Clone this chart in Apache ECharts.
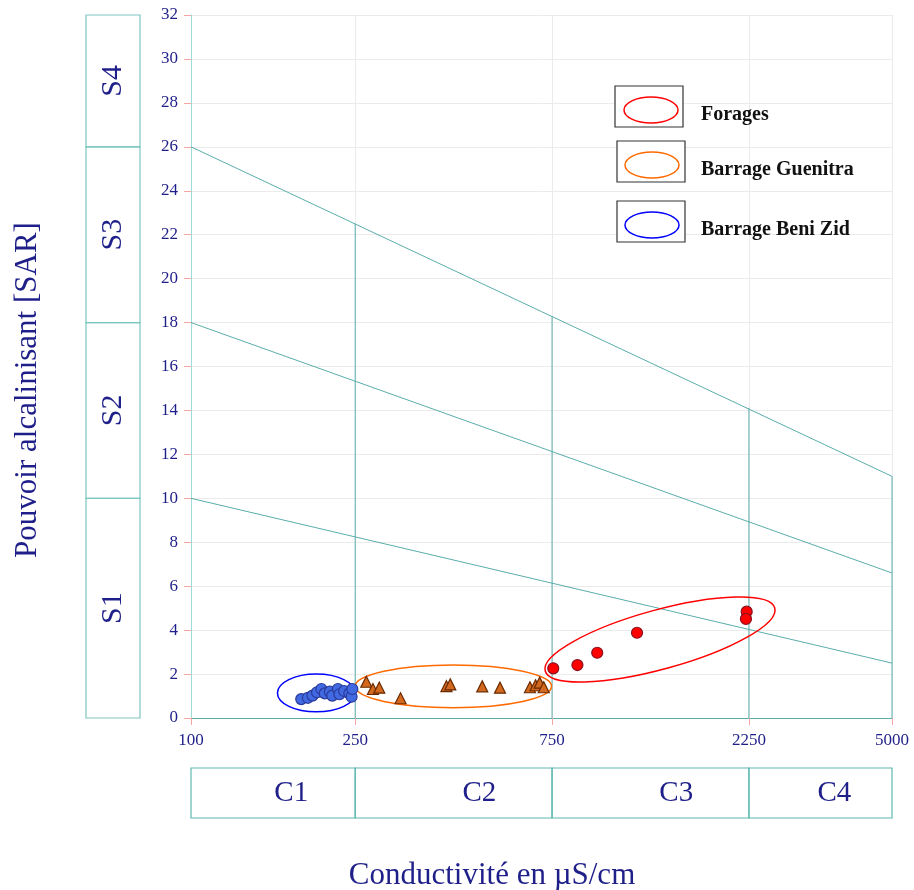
<!DOCTYPE html>
<html>
<head>
<meta charset="utf-8">
<script src="https://cdn.jsdelivr.net/npm/echarts@6/dist/echarts.min.js"></script>
<style>html,body{margin:0;padding:0;background:#fff}#main{width:914px;height:890px}</style>
</head>
<body>
<div id="main"></div>
<script>
// axe des conductivites (log)
var ecTicks = [100, 250, 750, 2250, 5000];
// classes de salinite (C) et d'alcalinite (S)
var cClasses = ['C1', 'C2', 'C3', 'C4'];
var cBounds = [100, 250, 750, 2250, 5000];
var sClasses = ['S1', 'S2', 'S3', 'S4'];
var sBounds = [0, 10, 18, 26, 32];
// droites S1/S2, S2/S3, S3/S4 : SAR a 100 et a 5000 µS/cm
var sLineLeft = [10, 18, 26];
var sLineRight = [2.5, 6.6, 11];
// verticales des classes C, jusqu'a la droite S3/S4
var cLineX = [250, 750, 2250, 5000];
var cLineTop = [22.5, 18.3, 14.1, 11];

var foragesEC = [755, 864, 965, 1205, 2222, 2213];
var foragesSAR = [2.26, 2.41, 2.97, 3.88, 4.84, 4.51];
var guenitraEC = [266, 276, 286, 322, 416, 425, 508, 561, 663, 684, 700, 716];
var guenitraSAR = [1.65, 1.32, 1.38, 0.90, 1.45, 1.53, 1.44, 1.38, 1.40, 1.49, 1.61, 1.40];
var benizidEC = [185, 192, 197, 202, 207, 211, 217, 220, 227, 229, 235, 242, 245, 246];
var benizidSAR = [0.86, 0.92, 1.02, 1.17, 1.32, 1.12, 1.20, 1.02, 1.32, 1.08, 1.23, 1.12, 0.97, 1.32];

// ellipses : [ec1, sar1, ec2, sar2, demi petit axe en SAR]
var groupNames = ['Forages', 'Barrage Guenitra', 'Barrage Beni Zid'];
var groupEllipses = [
  [722, 2.14, 2599, 5.01, 1.35],
  [250, 1.44, 748, 1.44, 0.97],
  [162, 1.14, 250, 1.14, 0.86]
];
var groupColors = ['#ff0000', '#ff6a00', '#0000ff'];

var navy = '#1f1f8a';
var teal = '#5aaeaa';
var serif = 'Liberation Serif';

function zip(a, b) {
  return a.map(function(v, i) { return [v, b[i]]; });
}

var myChart = echarts.init(document.getElementById('main'));

var series = [];

// droites de separation S
sLineLeft.forEach(function(v, i) {
  series.push({
    type: 'line', xAxisIndex: 0, yAxisIndex: 0, silent: true,
    data: [[100, v], [5000, sLineRight[i]]],
    symbol: 'none', lineStyle: {color: teal, width: 1}, z: 2
  });
});
// verticales C
cLineX.forEach(function(x, i) {
  series.push({
    type: 'line', xAxisIndex: 0, yAxisIndex: 0, silent: true,
    data: [[x, 0], [x, cLineTop[i]]],
    symbol: 'none', lineStyle: {color: teal, width: 1}, z: 2
  });
});

// ellipses des groupes
series.push({
  type: 'custom', xAxisIndex: 0, yAxisIndex: 0, silent: true, z: 3,
  data: groupEllipses.map(function(e, i) { return e.concat([i]); }),
  renderItem: function(params, api) {
    var p1 = api.coord([api.value(0), api.value(1)]);
    var p2 = api.coord([api.value(2), api.value(3)]);
    var pm = api.coord([api.value(0), api.value(1) + api.value(4)]);
    var dx = p2[0] - p1[0], dy = p2[1] - p1[1];
    var a = Math.sqrt(dx * dx + dy * dy) / 2;
    var b = p1[1] - pm[1];
    return {
      type: 'ellipse',
      x: (p1[0] + p2[0]) / 2, y: (p1[1] + p2[1]) / 2,
      rotation: Math.atan2(-dy, dx),
      shape: {cx: 0, cy: 0, rx: a, ry: b},
      style: {fill: 'none', stroke: groupColors[api.value(5)], lineWidth: 1.5}
    };
  }
});

series.push({
  name: 'Forages', type: 'scatter', xAxisIndex: 0, yAxisIndex: 0, z: 5,
  data: zip(foragesEC, foragesSAR), symbol: 'circle', symbolSize: 11,
  itemStyle: {color: '#ff0000', borderColor: '#8a1020', borderWidth: 1.2, opacity: 1}
});
series.push({
  name: 'Barrage Guenitra', type: 'scatter', xAxisIndex: 0, yAxisIndex: 0, z: 5,
  data: zip(guenitraEC, guenitraSAR), symbol: 'triangle', symbolSize: 11,
  itemStyle: {color: '#d2691e', borderColor: '#6a2a00', borderWidth: 1.2, opacity: 1}
});
series.push({
  name: 'Barrage Beni Zid', type: 'scatter', xAxisIndex: 0, yAxisIndex: 0, z: 5,
  data: zip(benizidEC, benizidSAR), symbol: 'circle', symbolSize: 11,
  itemStyle: {color: '#4169e1', borderColor: '#2a3a9a', borderWidth: 1.2, opacity: 1}
});

// cases S a gauche
series.push({
  type: 'custom', xAxisIndex: 1, yAxisIndex: 1, silent: true,
  data: sClasses.map(function(s, i) { return [sBounds[i], sBounds[i + 1], i]; }),
  renderItem: function(params, api) {
    var p0 = api.coord([0, api.value(0)]);
    var p1 = api.coord([1, api.value(1)]);
    return {
      type: 'group',
      children: [{
        type: 'rect',
        shape: {x: p0[0], y: p1[1], width: p1[0] - p0[0], height: p0[1] - p1[1]},
        style: {fill: 'none', stroke: '#7cc6c0', lineWidth: 1.2}
      }, {
        type: 'text',
        x: (p0[0] + p1[0]) / 2, y: (p0[1] + p1[1]) / 2,
        rotation: Math.PI / 2,
        style: {text: sClasses[api.value(2)], fill: navy, font: '30px "' + serif + '"',
                align: 'center', verticalAlign: 'middle'}
      }]
    };
  }
});

// cases C en bas
series.push({
  type: 'custom', xAxisIndex: 2, yAxisIndex: 2, silent: true,
  data: cClasses.map(function(c, i) { return [cBounds[i], cBounds[i + 1], i]; }),
  renderItem: function(params, api) {
    var p0 = api.coord([api.value(0), 0]);
    var p1 = api.coord([api.value(1), 1]);
    var pc = api.coord([(api.value(0) + api.value(1)) / 2, 0.5]);
    return {
      type: 'group',
      children: [{
        type: 'rect',
        shape: {x: p0[0], y: p1[1], width: p1[0] - p0[0], height: p0[1] - p1[1]},
        style: {fill: 'none', stroke: '#5fb8b2', lineWidth: 1.2}
      }, {
        type: 'text', x: pc[0], y: pc[1],
        style: {text: cClasses[api.value(2)], fill: navy, font: '29px "' + serif + '"',
                align: 'center', verticalAlign: 'middle'}
      }]
    };
  }
});

// legende dessinee (cadre + ellipse)
var legendTop = [86, 141, 201];
var legendGraphics = [];
groupNames.forEach(function(name, i) {
  var y = legendTop[i];
  legendGraphics.push({
    type: 'rect', x: i == 0 ? 615 : 617, y: y, z: 100,
    shape: {x: 0, y: 0, width: 68, height: 41},
    style: {fill: '#fff', stroke: '#333', lineWidth: 1.2}
  });
  legendGraphics.push({
    type: 'ellipse', x: i == 0 ? 651 : 652, y: y + 24, z: 101,
    shape: {cx: 0, cy: 0, rx: 27, ry: 13},
    style: {fill: 'none', stroke: groupColors[i], lineWidth: 1.5}
  });
  legendGraphics.push({
    type: 'text', x: 701, y: y + 29, z: 101,
    style: {text: name, fill: '#111', font: 'bold 20px "' + serif + '"',
            align: 'left', verticalAlign: 'middle'}
  });
});

option = {
  animation: false,
  backgroundColor: '#fff',
  grid: [
    {left: 191, right: 22, top: 15, bottom: 172},
    {left: 86, width: 54, top: 15, bottom: 172},
    {left: 191, right: 22, top: 768, height: 50}
  ],
  xAxis: [{
    gridIndex: 0, type: 'log', logBase: 10, min: 100, max: 5000,
    axisLine: {show: true, onZero: false, lineStyle: {color: teal}},
    axisTick: {show: true, customValues: ecTicks, length: 7, lineStyle: {color: '#f6a5a5'}},
    axisLabel: {
      customValues: ecTicks, color: navy, fontFamily: serif, fontSize: 17, margin: 14,
      formatter: function(v) { return String(Math.round(v)); }
    },
    splitLine: {show: true, lineStyle: {color: '#ebebeb'}}
  }, {
    gridIndex: 1, type: 'value', min: 0, max: 1, show: false
  }, {
    gridIndex: 2, type: 'log', logBase: 10, min: 100, max: 5000, show: false
  }],
  yAxis: [{
    gridIndex: 0, type: 'value', min: 0, max: 32, interval: 2,
    axisLine: {show: true, lineStyle: {color: '#9fdcd6'}},
    axisTick: {show: true, length: 7, lineStyle: {color: '#f6a5a5'}},
    axisLabel: {color: navy, fontFamily: serif, fontSize: 17, margin: 13},
    splitLine: {show: true, lineStyle: {color: '#ebebeb'}}
  }, {
    gridIndex: 1, type: 'value', min: 0, max: 32, show: false
  }, {
    gridIndex: 2, type: 'value', min: 0, max: 1, show: false
  }],
  graphic: legendGraphics.concat([{
    type: 'text', x: 28, y: 390, rotation: Math.PI / 2,
    style: {text: 'Pouvoir alcalinisant [SAR]', fill: navy, font: '31px "' + serif + '"',
            align: 'center', verticalAlign: 'middle'}
  }, {
    type: 'text', x: 492, y: 876,
    style: {text: 'Conductivité en µS/cm', fill: navy, font: '31px "' + serif + '"',
            align: 'center', verticalAlign: 'middle'}
  }]),
  series: series
};
myChart.setOption(option);
</script>
</body>
</html>
